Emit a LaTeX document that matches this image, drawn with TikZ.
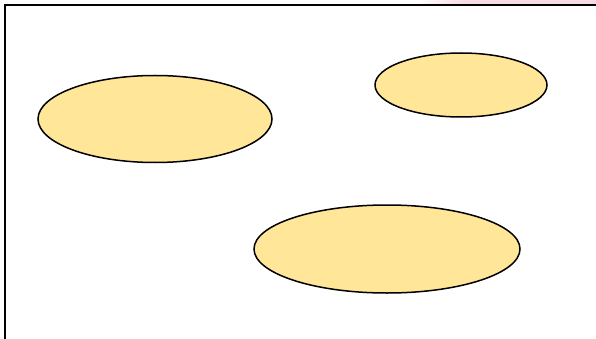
\documentclass[tikz,border=0pt]{standalone}
\usetikzlibrary{shapes.geometric}
\definecolor{blobfill}{RGB}{255,230,153}
\definecolor{pinkish}{RGB}{248,218,226}
\tikzset{blob/.style={ellipse, draw=black, line width=1.5pt, fill=blobfill, inner sep=0pt}}
\begin{document}
\begin{tikzpicture}[x=1pt,y=-1pt]
\useasboundingbox (0,0) rectangle (596,339);
\fill[white] (0,0) rectangle (596,339);
\shade[left color=white, right color=pinkish] (415,0) rectangle (465,4.5);
\fill[pinkish] (465,0) rectangle (596,4.5);
\draw[line width=2pt] (5,339) -- (5,5.5) -- (596,5.5);
\node[blob, minimum width=234pt, minimum height=87pt] (a) at (155,119) {};
\node[blob, minimum width=172pt, minimum height=64pt] (b) at (461,85) {};
\node[blob, minimum width=266pt, minimum height=88pt] (c) at (387,249) {};
\end{tikzpicture}
\end{document}
